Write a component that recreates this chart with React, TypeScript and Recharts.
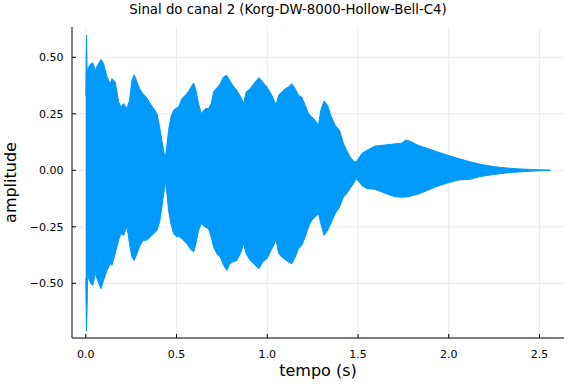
import React from 'react';
import { AreaChart, Area, XAxis, YAxis, CartesianGrid } from 'recharts';

// envelope of the waveform (time in s, amplitude)
const time = [
  0.0, 0.004, 0.008, 0.01, 0.016, 0.028, 0.039, 0.052, 0.065, 0.084, 0.098, 0.117, 0.135, 0.144, 0.162,
  0.181, 0.194, 0.208, 0.227, 0.241, 0.254, 0.267, 0.282, 0.296, 0.315, 0.333, 0.355, 0.374, 0.392, 0.407,
  0.419, 0.432, 0.438, 0.447, 0.456, 0.469, 0.484, 0.502, 0.511, 0.53, 0.557, 0.575, 0.594, 0.607, 0.621,
  0.636, 0.658, 0.676, 0.691, 0.704, 0.722, 0.741, 0.759, 0.777, 0.792, 0.809, 0.832, 0.856, 0.869, 0.884,
  0.906, 0.933, 0.955, 0.974, 0.998, 1.025, 1.049, 1.062, 1.08, 1.099, 1.117, 1.135, 1.154, 1.172, 1.19,
  1.209, 1.227, 1.245, 1.264, 1.282, 1.295, 1.313, 1.332, 1.35, 1.374, 1.398, 1.42, 1.438, 1.456, 1.475,
  1.49, 1.502, 1.521, 1.548, 1.594, 1.649, 1.704, 1.741, 1.763, 1.787, 1.833, 1.888, 1.943, 1.998, 2.053,
  2.117, 2.172, 2.227, 2.282, 2.337, 2.392, 2.447, 2.502, 2.56,
];
const upper = [
  0.33, 0.598, 0.41, 0.442, 0.457, 0.472, 0.475, 0.442, 0.465, 0.491, 0.472, 0.413, 0.383, 0.406, 0.391,
  0.302, 0.28, 0.295, 0.273, 0.31, 0.398, 0.423, 0.391, 0.361, 0.339, 0.324, 0.295, 0.273, 0.251, 0.192,
  0.132, 0.073, 0.056, 0.11, 0.177, 0.236, 0.266, 0.277, 0.28, 0.317, 0.339, 0.361, 0.386, 0.354, 0.295,
  0.251, 0.273, 0.273, 0.295, 0.347, 0.364, 0.383, 0.413, 0.42, 0.398, 0.376, 0.354, 0.321, 0.295, 0.347,
  0.361, 0.391, 0.41, 0.391, 0.369, 0.332, 0.288, 0.332, 0.347, 0.361, 0.369, 0.383, 0.361, 0.332, 0.324,
  0.288, 0.251, 0.236, 0.221, 0.199, 0.266, 0.307, 0.288, 0.243, 0.199, 0.177, 0.118, 0.088, 0.059, 0.041,
  0.037, 0.052, 0.074, 0.088, 0.107, 0.112, 0.117, 0.12, 0.134, 0.128, 0.11, 0.095, 0.08, 0.066, 0.052,
  0.038, 0.027, 0.019, 0.013, 0.009, 0.006, 0.004, 0.002, 0.001,
];
const lower = [
  -0.48, -0.711, -0.58, -0.457, -0.48, -0.502, -0.509, -0.457, -0.487, -0.524, -0.487, -0.443, -0.413, -0.42, -0.369,
  -0.31, -0.28, -0.288, -0.251, -0.325, -0.384, -0.399, -0.369, -0.339, -0.31, -0.31, -0.295, -0.28, -0.266, -0.229,
  -0.162, -0.089, -0.044, -0.103, -0.177, -0.236, -0.28, -0.295, -0.292, -0.303, -0.325, -0.347, -0.361, -0.325, -0.266,
  -0.236, -0.251, -0.258, -0.295, -0.339, -0.369, -0.384, -0.42, -0.443, -0.416, -0.406, -0.399, -0.361, -0.325, -0.369,
  -0.399, -0.42, -0.435, -0.406, -0.391, -0.347, -0.31, -0.366, -0.384, -0.395, -0.406, -0.413, -0.384, -0.347, -0.332,
  -0.295, -0.251, -0.221, -0.207, -0.192, -0.236, -0.288, -0.266, -0.236, -0.192, -0.162, -0.118, -0.103, -0.081, -0.059,
  -0.037, -0.047, -0.067, -0.081, -0.084, -0.102, -0.117, -0.119, -0.118, -0.115, -0.105, -0.087, -0.069, -0.055, -0.043,
  -0.04, -0.028, -0.021, -0.015, -0.01, -0.007, -0.004, -0.002, -0.001,
];

const xTicks = [0, 0.5, 1, 1.5, 2, 2.5];
const yTicks = [-0.5, -0.25, 0, 0.25, 0.5];

const data = time.map((t, i) => ({ t, range: [lower[i], upper[i]] }));

const font = '"DejaVu Sans", sans-serif';
const tickStyle = { fontSize: 11, fill: '#000', fontFamily: font };

const fmtY = (v: number) => (v < 0 ? '\u2212' + Math.abs(v).toFixed(2) : v.toFixed(2));

export default function App() {
  return (
    <div style={{ position: 'absolute', left: 0, top: 0, width: 576, height: 384, background: '#fff' }}>
      <AreaChart width={576} height={384} data={data} margin={{ top: 27, right: 12, bottom: 0, left: 0 }}>
        <CartesianGrid stroke="#ebebeb" horizontalValues={yTicks} verticalValues={xTicks} />
        <XAxis
          type="number"
          dataKey="t"
          domain={[-0.076, 2.635]}
          ticks={xTicks}
          tickFormatter={(v: number) => v.toFixed(1)}
          allowDataOverflow
          height={46}
          tick={tickStyle}
          tickSize={-4}
          tickMargin={16}
          stroke="#000"
        />
        <YAxis
          type="number"
          domain={[-0.742, 0.634]}
          ticks={yTicks}
          tickFormatter={fmtY}
          allowDataOverflow
          width={72}
          tick={tickStyle}
          tickSize={-4}
          tickMargin={12.5}
          stroke="#000"
        />
        <Area
          type="linear"
          dataKey="range"
          stroke="#009afa"
          strokeWidth={1}
          fill="#009afa"
          fillOpacity={1}
          dot={false}
          activeDot={false}
          isAnimationActive={false}
        />
      </AreaChart>
      <svg width={576} height={384} style={{ position: 'absolute', left: 0, top: 0, pointerEvents: 'none' }}>
        <text x={288} y={13.5} textAnchor="middle" fontSize={13.3} fontFamily={font} fill="#000">
          Sinal do canal 2 (Korg-DW-8000-Hollow-Bell-C4)
        </text>
        <text x={318} y={376} textAnchor="middle" fontSize={16} fontFamily={font} fill="#000">
          tempo (s)
        </text>
        <text transform="translate(16,182.5) rotate(-90)" textAnchor="middle" fontSize={16} fontFamily={font} fill="#000">
          amplitude
        </text>
      </svg>
    </div>
  );
}
